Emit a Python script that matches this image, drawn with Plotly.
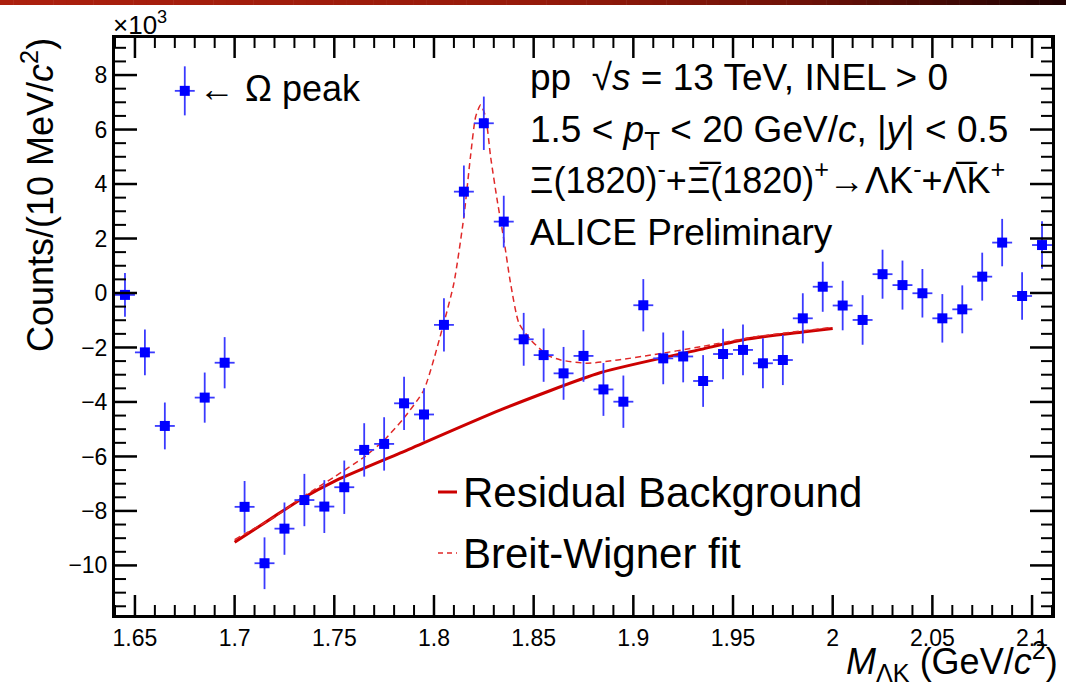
import plotly.graph_objects as go

# ---------------- data (counts in units of 10^3) ----------------
mass = [1.645, 1.655, 1.665, 1.675, 1.685, 1.695, 1.705, 1.715, 1.725, 1.735,
        1.745, 1.755, 1.765, 1.775, 1.785, 1.795, 1.805, 1.815, 1.825, 1.835,
        1.845, 1.855, 1.865, 1.875, 1.885, 1.895, 1.905, 1.915, 1.925, 1.935,
        1.945, 1.955, 1.965, 1.975, 1.985, 1.995, 2.005, 2.015, 2.025, 2.035,
        2.045, 2.055, 2.065, 2.075, 2.085, 2.095, 2.105]
counts = [-0.07, -2.18, -4.88, 7.42, -3.84, -2.56, -7.85, -9.92, -8.65, -7.60,
          -7.84, -7.13, -5.76, -5.54, -4.05, -4.46, -1.17, 3.72, 6.23, 2.62,
          -1.70, -2.28, -2.95, -2.31, -3.54, -3.99, -0.45, -2.40, -2.33, -3.23,
          -2.24, -2.09, -2.58, -2.46, -0.93, 0.23, -0.46, -0.99, 0.69, 0.29,
          -0.01, -0.93, -0.60, 0.60, 1.85, -0.11, 1.76]
errors = [0.80, 0.84, 0.86, 0.90, 0.92, 0.94, 0.95, 0.95, 0.96, 0.96,
          0.97, 0.98, 0.98, 0.98, 0.98, 0.96, 0.98, 0.96, 0.98, 0.95,
          0.97, 0.98, 0.97, 0.95, 0.97, 0.96, 0.96, 0.95, 0.95, 0.95,
          0.93, 0.93, 0.92, 0.92, 0.92, 0.92, 0.91, 0.91, 0.90, 0.90,
          0.89, 0.89, 0.88, 0.88, 0.87, 0.87, 0.87]
bin_half = [0.005] * len(mass)

# residual background curve
bkg_x = [1.700, 1.720, 1.7335, 1.7495, 1.7832, 1.8334, 1.8837, 1.9339, 1.957, 1.986, 2.000]
bkg_y = [-9.15, -8.20, -7.56, -6.93, -5.87, -4.29, -2.92, -2.07, -1.69, -1.42, -1.30]

# Breit-Wigner + background fit curve
bw_x = [1.700, 1.720, 1.735, 1.750, 1.765, 1.775, 1.7848, 1.7949, 1.8049, 1.8100,
        1.8150, 1.8183, 1.8209, 1.8234, 1.8259, 1.8284, 1.8317, 1.8351, 1.8384,
        1.8426, 1.8485, 1.8569, 1.8636, 1.8771, 1.8922, 1.9088, 1.9339, 1.960, 2.000]
bw_y = [-9.05, -8.22, -7.45, -6.75, -6.02, -5.40, -4.60, -3.56, -1.11, 0.36,
        2.80, 5.00, 6.47, 6.90, 6.47, 5.00, 3.41, 1.94, 0.36,
        -1.11, -1.72, -2.28, -2.46, -2.58, -2.46, -2.28, -1.97, -1.62, -1.26]

x_ticks = [1.65, 1.7, 1.75, 1.8, 1.85, 1.9, 1.95, 2.0, 2.05, 2.1]
x_ticktext = ["1.65", "1.7", "1.75", "1.8", "1.85", "1.9", "1.95", "2", "2.05", "2.1"]
y_ticks = [-10, -8, -6, -4, -2, 0, 2, 4, 6, 8]
y_ticktext = ["−10", "−8", "−6", "−4", "−2", "0", "2", "4", "6", "8"]
X_RANGE = [1.64, 2.11]
Y_RANGE = [-11.82, 9.36]

FONT = "Liberation Sans, Arial, Helvetica, sans-serif"

# plot area in pixels
L, R, T, B = 115, 1052, 38, 615
W, H = 1066, 687
PW, PH = R - L, B - T
DX = (X_RANGE[1] - X_RANGE[0]) / PW   # data units per pixel
DY = (Y_RANGE[1] - Y_RANGE[0]) / PH


def px(x):
    return (x - L) / PW


def py(y):
    return (B - y) / PH


fig = go.Figure()

fig.add_trace(go.Scatter(
    x=bkg_x, y=bkg_y, mode="lines", line=dict(color="#cc0000", width=3, shape="spline", smoothing=0.6),
    showlegend=False, hoverinfo="skip"))
fig.add_trace(go.Scatter(
    x=bw_x, y=bw_y, mode="lines",
    line=dict(color="#e02828", width=1.5, dash="6px,4px", shape="spline", smoothing=0.6),
    showlegend=False, hoverinfo="skip"))
fig.add_trace(go.Scatter(
    x=mass, y=counts, mode="markers",
    marker=dict(symbol="square", size=10, color="#0000ff"),
    error_y=dict(type="data", array=errors, color="#3a3aff", thickness=1.8, width=0),
    error_x=dict(type="data", array=bin_half, color="#3a3aff", thickness=1.8, width=0),
    showlegend=False))

# ---- ROOT-style inward ticks on all four sides (axis decoration, drawn as line traces) ----
x_minor = [round(X_RANGE[0] + 0.01 * i, 3) for i in range(48)]
x_minor = [v for v in x_minor if all(abs(v - m) > 1e-6 for m in x_ticks)]
y_minor = [round(-11.5 + 0.5 * i, 2) for i in range(42)]
y_minor = [v for v in y_minor if all(abs(v - m) > 1e-6 for m in y_ticks)]


def xtick_trace(vals, length, width):
    xs, ys = [], []
    for v in vals:
        xs += [v, v, None, v, v, None]
        ys += [Y_RANGE[0], Y_RANGE[0] + length * DY, None, Y_RANGE[1], Y_RANGE[1] - length * DY, None]
    return go.Scatter(x=xs, y=ys, mode="lines", line=dict(color="black", width=width),
                      showlegend=False, hoverinfo="skip", cliponaxis=False)


def ytick_trace(vals, length, width):
    xs, ys = [], []
    for v in vals:
        ys += [v, v, None, v, v, None]
        xs += [X_RANGE[0], X_RANGE[0] + length * DX, None, X_RANGE[1], X_RANGE[1] - length * DX, None]
    return go.Scatter(x=xs, y=ys, mode="lines", line=dict(color="black", width=width),
                      showlegend=False, hoverinfo="skip", cliponaxis=False)


fig.add_trace(xtick_trace(x_ticks, 20, 2.5))
fig.add_trace(xtick_trace(x_minor, 10, 2))
fig.add_trace(ytick_trace(y_ticks, 22, 2.5))
fig.add_trace(ytick_trace(y_minor, 11, 2))

shapes = []
# gradient bar at very top
stops = [(0.0, (172, 32, 14)), (0.5, (150, 26, 10)), (0.75, (112, 18, 8)), (1.0, (30, 2, 2))]


def grad(t):
    for (t0, c0), (t1, c1) in zip(stops[:-1], stops[1:]):
        if t <= t1:
            f = (t - t0) / (t1 - t0)
            return "rgb(%d,%d,%d)" % tuple(round(a + (b - a) * f) for a, b in zip(c0, c1))
    return "rgb(30,2,2)"


N = 80
for i in range(N):
    x0 = i * W / N
    x1 = (i + 1) * W / N + 0.5
    shapes.append(dict(type="rect", xref="paper", yref="paper",
                       x0=px(x0), x1=px(x1), y0=py(5), y1=py(0),
                       fillcolor=grad((i + 0.5) / N), line=dict(width=0), layer="above"))

# legend line samples
shapes.append(dict(type="line", xref="paper", yref="paper", x0=px(438), x1=px(457), y0=py(492), y1=py(492),
                   line=dict(color="#cc0000", width=3)))
shapes.append(dict(type="line", xref="paper", yref="paper", x0=px(438), x1=px(457), y0=py(553), y1=py(553),
                   line=dict(color="#e02828", width=1.5, dash="5px,4px")))

annotations = []


def ann(text, x, y, size, xanchor="left", yanchor="middle", angle=0):
    annotations.append(dict(text=text, x=px(x), y=py(y), xref="paper", yref="paper",
                            xanchor=xanchor, yanchor=yanchor, showarrow=False, textangle=angle,
                            font=dict(family=FONT, size=size, color="black")))


ann("pp  √<i>s</i> = 13 TeV, INEL > 0", 528, 78, 37)
ann("1.5 < <i>p</i><sub>T</sub> < 20 GeV/<i>c</i>, |<i>y</i>| < 0.5", 528, 132, 37)
ann("Ξ(1820)<sup>-</sup>+Ξ̅(1820)<sup>+</sup>→ΛK<sup>-</sup>+Λ̅K<sup>+</sup>", 528, 178, 36)
ann("ALICE Preliminary", 528, 232, 37)
ann("← Ω peak", 197, 88, 36)
ann("Residual Background", 461, 492, 42)
ann("Breit-Wigner fit", 461, 553, 42)
ann("×10<sup>3</sup>", 111, 24, 26)
ann("Counts/(10 MeV/<i>c</i><sup>2</sup>)", 38, 195, 36, xanchor="center", angle=-90)
ann("<i>M</i><sub>ΛK</sub> (GeV/<i>c</i><sup>2</sup>)", 1060, 661, 36, xanchor="right")

fig.update_layout(
    width=W, height=H,
    margin=dict(l=L, r=W - R, t=T, b=H - B, pad=0),
    paper_bgcolor="white", plot_bgcolor="white",
    shapes=shapes, annotations=annotations,
    font=dict(family=FONT, color="black"),
    xaxis=dict(range=X_RANGE, tickmode="array", tickvals=x_ticks, ticktext=x_ticktext,
               ticks="", showline=True, linewidth=3, linecolor="black", mirror=True,
               showgrid=False, zeroline=False,
               tickfont=dict(family=FONT, size=23, color="black")),
    yaxis=dict(range=Y_RANGE, tickmode="array", tickvals=y_ticks, ticktext=y_ticktext,
               ticks="", showline=True, linewidth=3, linecolor="black", mirror=True,
               showgrid=False, zeroline=False,
               tickfont=dict(family=FONT, size=23, color="black")),
)

fig.write_html("out.html")
